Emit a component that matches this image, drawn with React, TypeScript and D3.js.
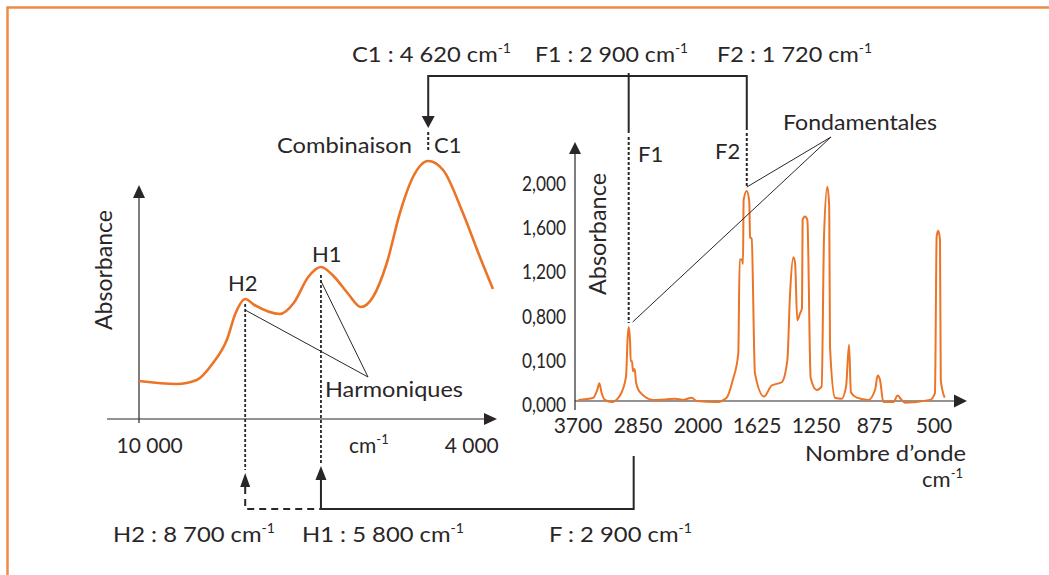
import React from 'react';
import * as d3 from 'd3';

// left panel: schematic overtone / combination band (relative position 0-100, arbitrary absorbance)
const leftPos = [0, 10.6, 16.3, 20.9, 24.8, 27.3, 30.0, 32.6, 39.8, 43.7, 47.8, 51.4, 55.2, 58.9, 62.7, 66.1, 70.0, 73.7, 77.4, 81.7, 85.9, 91.5, 96.3, 100];
const leftAbs = [0.38, 0.35, 0.39, 0.56, 0.79, 1.06, 1.20, 1.14, 1.05, 1.16, 1.42, 1.52, 1.42, 1.26, 1.12, 1.22, 1.56, 2.06, 2.42, 2.58, 2.49, 2.06, 1.62, 1.30];
const leftTickLabels = ['10 000', '4 000'];

// right panel: mid-IR spectrum
const irWavenumber = [3695, 3483, 3427, 3398, 3364, 3318, 3223, 3105, 3020, 2996,
  2982, 2963, 2953, 2935, 2921, 2897, 2878, 2822, 2633, 2443,
  2326, 2208, 2089, 2018, 1881, 1818, 1779, 1744, 1735, 1720,
  1714, 1710, 1690, 1674, 1669, 1659, 1638, 1580, 1532, 1468,
  1432, 1415, 1394, 1383, 1369, 1352, 1339, 1335, 1320, 1305,
  1284, 1246, 1214, 1199, 1178, 1166, 1161, 1129, 1087, 1059,
  1040, 1028, 991, 918, 875, 858, 843, 822, 759, 731,
  712, 684, 525, 494, 483, 473, 462, 457, 432];
const irAbsorbance = [0.01, 0.03, 0.10, 0.16, 0.07, 0.01, -0.01, 0.05, 0.22, 0.58,
  0.67, 0.55, 0.36, 0.36, 0.27, 0.29, 0.17, 0.08, 0.01, 0.015,
  0.02, 0.01, 0.03, 0.00, -0.01, 0.03, 0.19, 0.43, 1.28, 1.28,
  1.24, 1.82, 1.90, 1.80, 1.48, 1.47, 0.25, 0.04, 0.14, 0.17,
  0.37, 0.97, 1.30, 1.25, 0.73, 0.79, 0.84, 1.64, 1.67, 1.64,
  0.21, 0.10, 0.13, 1.49, 1.94, 1.76, 0.49, 0.03, 0.02, 0.13,
  0.51, 0.08, 0.03, 0.01, 0.10, 0.23, 0.19, -0.01, -0.01, 0.05,
  0.02, -0.015, 0.01, 0.07, 1.49, 1.54, 1.46, 0.19, 0.03];

const irXTicks = [3700, 2850, 2000, 1625, 1250, 875, 500];
const irYTicks = [0, 0.4, 0.8, 1.2, 1.6, 2.0];
const irYTickLabels = ['0,000', '0,100', '0,800', '1,200', '1,600', '2,000'];

const ORANGE = '#ec7426';
const INK = '#2a2627';
const FONT = 'Lato, "Open Sans", sans-serif';

// index of the max value of ys where lo <= xs <= hi
function peakIn(xs: number[], ys: number[], lo: number, hi: number) {
  let best = -1;
  xs.forEach((x, i) => {
    if (x >= lo && x <= hi && (best < 0 || ys[i] > ys[best])) best = i;
  });
  return best;
}

function arrow(x: number, y: number, dir: string, len = 13, half = 6) {
  if (dir === 'up') return `M${x},${y}L${x - half},${y + len}L${x + half},${y + len}Z`;
  if (dir === 'down') return `M${x},${y}L${x - half},${y - len}L${x + half},${y - len}Z`;
  return `M${x},${y}L${x - len},${y - half}L${x - len},${y + half}Z`;
}

const Sup = ({ children }: { children: string }) => (
  <tspan dy={-9} fontSize={13}>{children}</tspan>
);

export default function App() {
  const xL = d3.scaleLinear().domain([0, 100]).range([139, 493]);
  const yL = d3.scaleLinear().domain([0, 2.6]).range([419, 159]);
  const xR = d3.scaleLinear().domain([3700, 2000, 500]).range([578, 698, 934]);
  const yR = d3.scaleLinear().domain([0, 2]).range([401, 180]);

  const leftLine = d3.line<number>()
    .x(i => xL(leftPos[i]))
    .y(i => yL(leftAbs[i]))
    .curve(d3.curveMonotoneX);
  const irLine = d3.line<number>()
    .x(i => xR(irWavenumber[i]))
    .y(i => yR(irAbsorbance[i]))
    .curve(d3.curveMonotoneX);

  const iH2 = peakIn(leftPos, leftAbs, 20, 40);
  const iH1 = peakIn(leftPos, leftAbs, 40, 60);
  const iC1 = peakIn(leftPos, leftAbs, 70, 95);
  const iF1 = peakIn(irWavenumber, irAbsorbance, 2800, 3100);
  const iF2 = peakIn(irWavenumber, irAbsorbance, 1650, 1800);

  const h2 = { x: xL(leftPos[iH2]), y: yL(leftAbs[iH2]) };
  const h1 = { x: xL(leftPos[iH1]), y: yL(leftAbs[iH1]) };
  const c1 = { x: xL(leftPos[iC1]), y: yL(leftAbs[iC1]) };
  const f1 = { x: xR(irWavenumber[iF1]), y: yR(irAbsorbance[iF1]) };
  const f2 = { x: xR(irWavenumber[iF2]), y: yR(irAbsorbance[iF2]) };

  const bracketY = 76;
  const bottomY = 509;
  const harmo = { x: 368, y: 377 };
  const fonda = { x: 831, y: 137 };
  const fx = f1.x + 5;

  const idx = d3.range(irWavenumber.length);
  const lidx = d3.range(leftPos.length);

  return (
    <svg width={1049} height={575} style={{ position: 'absolute', left: 0, top: 0 }}
      fontFamily={FONT} fill={INK}>
      <rect width={1049} height={575} fill="#fff" />
      {/* frame */}
      <path d="M7.5,575V7.5H1049" fill="none" stroke="#ef8a4a" strokeWidth={2.5} />

      {/* top labels */}
      <text x={352} y={62} fontSize={22} textLength={159} lengthAdjust="spacingAndGlyphs">C1 : 4 620 cm<Sup>-1</Sup></text>
      <text x={535} y={62} fontSize={22} textLength={153} lengthAdjust="spacingAndGlyphs">F1 : 2 900 cm<Sup>-1</Sup></text>
      <text x={717} y={62} fontSize={22} textLength={155} lengthAdjust="spacingAndGlyphs">F2 : 1 720 cm<Sup>-1</Sup></text>

      {/* top bracket */}
      <g stroke={INK} strokeWidth={2} fill="none">
        <path d={`M${c1.x},117V${bracketY}H${f2.x}V130`} />
        <path d={`M${f1.x},73V133`} />
      </g>
      <path d={arrow(c1.x, 128, 'down', 12, 6.5)} fill={INK} />
      <g stroke={INK} strokeWidth={2} strokeDasharray="3 2" fill="none">
        <path d={`M${c1.x},132V150`} />
        <path d={`M${f1.x},137V${f1.y - 4}`} />
        <path d={`M${f2.x},133V${f2.y - 4}`} />
        <path d={`M${h2.x},${h2.y + 5}V470`} strokeWidth={1.8} />
        <path d={`M${h1.x},${h1.y + 8}V463`} strokeWidth={1.8} />
      </g>

      {/* left panel */}
      <g stroke={INK} strokeWidth={1.2}>
        <line x1={xL(0)} x2={xL(0)} y1={423} y2={196} />
        <line x1={107} x2={486} y1={yL(0)} y2={yL(0)} />
      </g>
      <path d={arrow(xL(0), 185, 'up', 13, 6)} fill={INK} />
      <path d={arrow(497, yL(0), 'right', 13, 6)} fill={INK} />
      <path d={leftLine(lidx) ?? ''} fill="none" stroke={ORANGE} strokeWidth={2.6} />
      <text x={xL(3)} y={453} fontSize={21} textAnchor="middle">{leftTickLabels[0]}</text>
      <text x={xL(94)} y={453} fontSize={21} textAnchor="middle">{leftTickLabels[1]}</text>
      <text x={349} y={453} fontSize={21}>cm<Sup>-1</Sup></text>
      <text transform="translate(112,270) rotate(-90)" fontSize={23} textAnchor="middle"
        textLength={120} lengthAdjust="spacingAndGlyphs">Absorbance</text>
      <text x={277} y={153} fontSize={22} textLength={135} lengthAdjust="spacingAndGlyphs">Combinaison</text>
      <text x={434} y={153} fontSize={22}>C1</text>
      <text x={228} y={291} fontSize={22}>H2</text>
      <text x={312} y={262} fontSize={22}>H1</text>
      <text x={325} y={397} fontSize={22} textLength={138} lengthAdjust="spacingAndGlyphs">Harmoniques</text>
      <g stroke={INK} strokeWidth={1}>
        <line x1={h2.x} y1={h2.y + 11} x2={harmo.x} y2={harmo.y} />
        <line x1={h1.x} y1={h1.y + 14} x2={harmo.x} y2={harmo.y} />
      </g>

      {/* right panel */}
      <g stroke={INK} strokeWidth={1.2}>
        <line x1={575} x2={575} y1={410} y2={152} />
        <line x1={575} x2={956} y1={yR(0)} y2={yR(0)} />
      </g>
      <path d={arrow(575, 142, 'up', 12, 6)} fill={INK} />
      <path d={arrow(967, yR(0), 'right', 13, 6.5)} fill={INK} />
      <path d={irLine(idx) ?? ''} fill="none" stroke={ORANGE} strokeWidth={2} strokeLinejoin="round" />
      {irYTicks.map((v, i) => (
        <text key={v} x={566} y={yR(v) + 11} fontSize={21} textAnchor="end"
          textLength={44} lengthAdjust="spacingAndGlyphs">{irYTickLabels[i]}</text>
      ))}
      {irXTicks.map(v => (
        <text key={v} x={xR(v)} y={433} fontSize={21} textAnchor="middle">{v}</text>
      ))}
      <text transform="translate(606,234) rotate(-90)" fontSize={23} textAnchor="middle"
        textLength={122} lengthAdjust="spacingAndGlyphs">Absorbance</text>
      <text x={638} y={162} fontSize={22}>F1</text>
      <text x={715} y={159} fontSize={22}>F2</text>
      <text x={783} y={130} fontSize={22} textLength={154} lengthAdjust="spacingAndGlyphs">Fondamentales</text>
      <g stroke={INK} strokeWidth={1}>
        <line x1={f1.x + 4} y1={f1.y - 5} x2={fonda.x} y2={fonda.y} />
        <line x1={f2.x} y1={f2.y - 4} x2={fonda.x} y2={fonda.y} />
      </g>
      <text x={805} y={461} fontSize={22} textLength={161} lengthAdjust="spacingAndGlyphs">Nombre d’onde</text>
      <text x={963} y={487} fontSize={22} textAnchor="end">cm<Sup>-1</Sup></text>

      {/* bottom connectors */}
      <g stroke={INK} strokeWidth={2} fill="none">
        <path d={`M${h1.x},480V${bottomY}H${fx}V456`} />
        <path d={`M${h2.x},487V${bottomY}H${h1.x}`} strokeDasharray="7 5" />
      </g>
      <path d={arrow(h2.x, 473, 'up', 14, 5)} fill={INK} />
      <path d={arrow(h1.x, 466, 'up', 14, 5.5)} fill={INK} />
      <text x={113} y={542} fontSize={22} textLength={162} lengthAdjust="spacingAndGlyphs">H2 : 8 700 cm<Sup>-1</Sup></text>
      <text x={302} y={542} fontSize={22} textLength={162} lengthAdjust="spacingAndGlyphs">H1 : 5 800 cm<Sup>-1</Sup></text>
      <text x={549} y={542} fontSize={22} textLength={143} lengthAdjust="spacingAndGlyphs">F : 2 900 cm<Sup>-1</Sup></text>
    </svg>
  );
}
